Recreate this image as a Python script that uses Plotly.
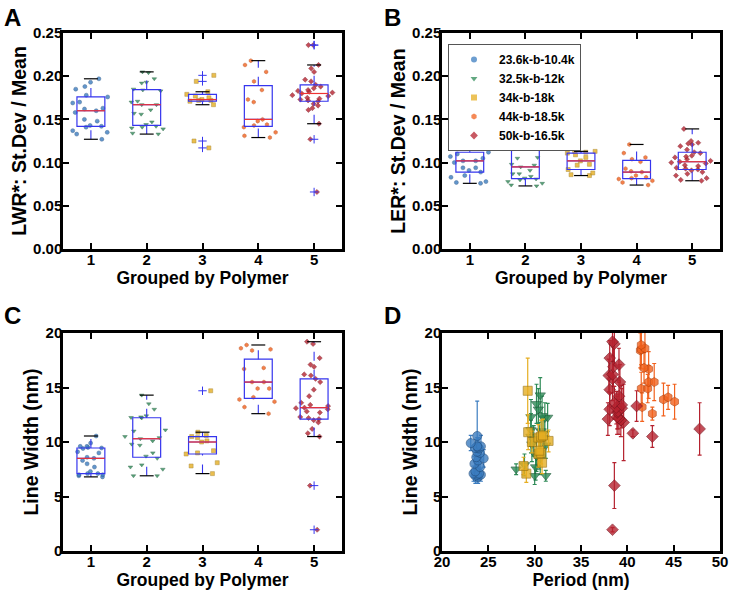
import numpy as np
import plotly.graph_objects as go

groups = [1, 2, 3, 4, 5]
names = ["23.6k-b-10.4k", "32.5k-b-12k", "34k-b-18k", "44k-b-18.5k", "50k-b-16.5k"]

# LWR* (std/mean) per polymer
lwr = [
    [0.127, 0.133, 0.135, 0.137, 0.141, 0.142, 0.143, 0.148, 0.150, 0.158, 0.160,
     0.162, 0.163, 0.169, 0.170, 0.176, 0.178, 0.185, 0.188, 0.193, 0.197],
    [0.133, 0.134, 0.139, 0.140, 0.141, 0.142, 0.144, 0.147, 0.156, 0.157, 0.161, 0.167,
     0.167, 0.170, 0.171, 0.183, 0.184, 0.185, 0.192, 0.193, 0.197, 0.204, 0.205],
    [0.117, 0.125, 0.167, 0.171, 0.172, 0.172, 0.173, 0.175, 0.177, 0.179, 0.182, 0.194, 0.201],
    [0.129, 0.131, 0.135, 0.141, 0.143, 0.144, 0.148, 0.150, 0.170, 0.173, 0.184, 0.194,
     0.205, 0.213, 0.218],
    [0.066, 0.127, 0.145, 0.161, 0.163, 0.166, 0.168, 0.171, 0.172, 0.173, 0.174, 0.175,
     0.177, 0.178, 0.180, 0.181, 0.182, 0.183, 0.184, 0.186, 0.188, 0.190, 0.194, 0.196,
     0.205, 0.209, 0.213, 0.236, 0.236],
]

# LER* (std/mean) per polymer
ler = [
    [0.076, 0.077, 0.078, 0.083, 0.085, 0.089, 0.091, 0.094, 0.094, 0.100, 0.102,
     0.102, 0.105, 0.107, 0.110, 0.112, 0.117, 0.120, 0.122, 0.124, 0.127],
    [0.073, 0.074, 0.076, 0.078, 0.080, 0.081, 0.082, 0.084, 0.087, 0.087, 0.091, 0.095,
     0.097, 0.098, 0.105, 0.106, 0.118, 0.122, 0.124, 0.126, 0.130, 0.132, 0.133],
    [0.085, 0.086, 0.088, 0.092, 0.097, 0.098, 0.102, 0.106, 0.109, 0.111, 0.112, 0.113, 0.113],
    [0.074, 0.077, 0.079, 0.081, 0.082, 0.083, 0.085, 0.089, 0.090, 0.093, 0.101, 0.104,
     0.106, 0.111, 0.121],
    [0.079, 0.080, 0.082, 0.085, 0.087, 0.089, 0.091, 0.092, 0.093, 0.094, 0.096, 0.097,
     0.099, 0.100, 0.101, 0.102, 0.104, 0.106, 0.107, 0.108, 0.111, 0.112, 0.115, 0.119,
     0.121, 0.122, 0.123, 0.125, 0.139],
]

# line width (nm), its error and the period (nm)
width = [
    [6.8, 6.9, 7.0, 7.0, 7.1, 7.1, 7.3, 7.7, 8.0, 8.3, 8.5, 8.6, 9.0, 9.1, 9.4, 9.45,
     9.5, 9.6, 9.6, 9.9, 10.55],
    [6.9, 6.9, 7.5, 7.7, 7.9, 8.5, 8.7, 9.0, 9.7, 9.8, 10.1, 10.3, 10.4, 10.5, 11.0, 11.1,
     12.2, 12.25, 12.3, 12.4, 13.0, 13.5, 14.3],
    [7.1, 7.8, 8.1, 8.9, 9.0, 9.2, 10.0, 10.1, 10.4, 10.5, 10.6, 10.9, 14.7],
    [12.6, 13.2, 13.7, 13.9, 14.1, 14.9, 14.9, 15.5, 15.5, 16.7, 16.8, 18.4, 18.5, 18.6, 18.9],
    [1.95, 6.0, 10.5, 10.8, 11.2, 11.8, 12.0, 12.1, 12.2, 12.3, 12.7, 12.8, 13.0, 13.1,
     13.15, 13.3, 13.4, 13.6, 14.2, 14.8, 15.5, 15.8, 16.1, 16.2, 16.9, 17.1, 17.7, 19.0, 19.2],
]
width_err = [
    [0.6, 0.7, 0.6, 0.8, 0.7, 0.6, 0.9, 0.8, 0.7, 0.9, 0.8, 0.9, 0.8, 1.0, 0.9, 0.8,
     0.9, 1.0, 0.8, 0.7, 3.2],
    [0.5, 0.8, 0.5, 1.2, 1.0, 1.5, 1.4, 1.5, 1.2, 1.6, 1.4, 1.5, 1.6, 1.5, 1.3, 1.5,
     1.4, 1.3, 1.6, 1.8, 1.9, 1.8, 1.6],
    [0.8, 0.8, 1.0, 1.2, 1.0, 1.2, 1.0, 1.0, 1.2, 1.5, 1.5, 1.6, 3.0],
    [0.6, 1.3, 1.6, 1.5, 1.1, 1.5, 1.3, 1.5, 1.7, 1.6, 1.4, 1.6, 1.8, 1.9, 1.8],
    [0.2, 2.1, 1.0, 0.3, 2.4, 3.5, 1.5, 1.5, 1.5, 1.6, 1.5, 1.6, 1.5, 1.8, 1.5, 1.4,
     1.8, 1.5, 1.3, 1.5, 1.6, 2.0, 1.5, 1.7, 1.8, 1.5, 1.6, 2.0, 1.8],
]
period = [
    [23.9, 23.6, 24.2, 23.8, 23.4, 24.0, 23.6, 24.1, 23.5, 23.9, 24.5, 23.7, 24.1, 23.8,
     24.0, 23.6, 23.9, 24.2, 23.8, 23.1, 23.8],
    [31.2, 30.0, 28.0, 30.1, 28.9, 30.6, 30.2, 30.5, 31.2, 29.7, 29.9, 30.5, 31.0, 29.6,
     30.7, 29.6, 31.1, 31.4, 29.6, 30.8, 30.4, 30.2, 30.6],
    [29.1, 28.8, 30.8, 30.4, 30.7, 30.5, 29.7, 31.5, 30.4, 30.7, 30.9, 29.3, 29.25],
    [42.7, 41.6, 45.1, 43.9, 44.4, 41.5, 42.2, 42.3, 42.9, 42.3, 41.8, 41.4, 41.5, 41.9, 41.5],
    [38.4, 38.6, 42.7, 40.6, 47.8, 39.6, 39.3, 37.9, 39.1, 38.9, 38.9, 39.0, 38.1, 39.4,
     38.8, 41.0, 39.4, 38.6, 39.1, 38.1, 39.2, 38.4, 38.0, 38.4, 38.5, 39.1, 38.1, 38.6, 38.4],
]

colors = ["#3c7dc0", "#2e8b57", "#e6ae22", "#f2621e", "#b5222f"]
edges = ["#234f80", "#1b5a38", "#9a7410", "#b8430d", "#7a1420"]
symbols = ["circle", "triangle-down", "square", "hexagon", "diamond"]
BOX_BLUE = "#3535ee"

FONT = "Liberation Sans, Arial, sans-serif"

fig = go.Figure()
shapes = []

box_panels = [("x", "y", lwr), ("x2", "y2", ler), ("x3", "y3", width)]
for xa, ya, data in box_panels:
    for i, g in enumerate(groups):
        vals = np.array(data[i])
        q1, med, q3 = np.percentile(vals, [25, 50, 75])
        iqr = q3 - q1
        inside = vals[(vals >= q1 - 1.5 * iqr) & (vals <= q3 + 1.5 * iqr)]
        lo, hi = inside.min(), inside.max()
        outl = vals[(vals < lo) | (vals > hi)]

        # jittered raw points
        fig.add_trace(go.Box(
            y=vals, x0=g, xaxis=xa, yaxis=ya, boxpoints="all", jitter=1, pointpos=0,
            width=0.8, line=dict(width=0, color="rgba(0,0,0,0)"),
            fillcolor="rgba(0,0,0,0)", showlegend=False,
            marker=dict(symbol=symbols[i], size=4, color=colors[i], opacity=0.8,
                        line=dict(width=0.5, color=edges[i]))))
        # box body
        fig.add_trace(go.Box(
            x=[g], q1=[q1], median=[med], q3=[q3], lowerfence=[q1], upperfence=[q3],
            xaxis=xa, yaxis=ya, width=0.5, whiskerwidth=0, boxpoints=False,
            line=dict(color=BOX_BLUE, width=1.2), fillcolor="rgba(0,0,0,0)",
            showlegend=False, hoverinfo="skip"))
        # fliers
        if len(outl):
            fig.add_trace(go.Scatter(
                x=[g] * len(outl), y=outl, xaxis=xa, yaxis=ya, mode="markers",
                showlegend=False,
                marker=dict(symbol="cross-thin", size=6, line=dict(width=1, color=BOX_BLUE))))
        shapes.append(dict(type="line", xref=xa, yref=ya, x0=g - 0.25, x1=g + 0.25, y0=med, y1=med,
                           line=dict(color="#ee3333", width=1.2)))
        for a, b in [(q3, hi), (lo, q1)]:
            shapes.append(dict(type="line", xref=xa, yref=ya, x0=g, x1=g, y0=a, y1=b,
                               line=dict(color=BOX_BLUE, width=1.1, dash="dash")))
        for v in (lo, hi):
            shapes.append(dict(type="line", xref=xa, yref=ya, x0=g - 0.125, x1=g + 0.125, y0=v, y1=v,
                               line=dict(color="black", width=1.2)))

# panel D: line width vs period
for i in range(5):
    fig.add_trace(go.Scatter(
        x=period[i], y=width[i], xaxis="x4", yaxis="y4", mode="markers", showlegend=False,
        error_y=dict(type="data", array=width_err[i], color=colors[i], thickness=1.2, width=2),
        marker=dict(symbol=symbols[i], size=9, color=colors[i], opacity=0.8,
                    line=dict(width=0.8, color=edges[i]))))

# legend entries (shown in panel B)
for i in range(5):
    fig.add_trace(go.Scatter(
        x=[None], y=[None], xaxis="x2", yaxis="y2", mode="markers", name=names[i],
        marker=dict(symbol=symbols[i], size=6, color=colors[i], opacity=0.75)))


def ax(domain, title, rng, tsize, **kw):
    d = dict(domain=domain, range=rng, showline=True, linewidth=2.5, linecolor="black",
             mirror="ticks", ticks="inside", ticklen=6, tickwidth=2, tickcolor="black",
             showgrid=False, zeroline=False, automargin=False, ticklabelstandoff=-5,
             tickfont=dict(family=FONT, size=15, color="black", weight="bold"),
             title=dict(text=title, font=dict(family=FONT, size=tsize, color="black", weight="bold"),
                        standoff=2))
    d.update(kw)
    return d


xl, xr_ = [63 / 734, 342 / 734], [442 / 734, 720 / 734]
yt, yb = [1 - 249 / 591, 1 - 33 / 591], [1 - 551 / 591, 1 - 333 / 591]
grp = dict(tickvals=groups)
XT, YT = 17.5, 19.5

fig.update_layout(
    width=734, height=591, margin=dict(l=0, r=0, t=0, b=0, autoexpand=False),
    paper_bgcolor="white", plot_bgcolor="white", boxmode="overlay",
    font=dict(family=FONT, color="black"),
    xaxis=ax(xl, "Grouped by Polymer", [0.5, 5.5], XT, anchor="y", **grp),
    yaxis=ax(yt, "LWR*: St.Dev / Mean", [0, 0.25], YT, anchor="x", dtick=0.05, tickformat=".2f"),
    xaxis2=ax(xr_, "Grouped by Polymer", [0.5, 5.5], XT, anchor="y2", **grp),
    yaxis2=ax(yt, "LER*: St.Dev / Mean", [0, 0.25], YT, anchor="x2", dtick=0.05, tickformat=".2f"),
    xaxis3=ax(xl, "Grouped by Polymer", [0.5, 5.5], XT, anchor="y3", **grp),
    yaxis3=ax(yb, "Line Width (nm)", [0, 20], YT, anchor="x3", dtick=5),
    xaxis4=ax(xr_, "Period (nm)", [20, 50], XT, anchor="y4", dtick=5),
    yaxis4=ax(yb, "Line Width (nm)", [0, 20], YT, anchor="x4", dtick=5),
    shapes=shapes,
    legend=dict(x=448 / 734, y=1 - 44 / 591, xanchor="left", yanchor="top",
                bordercolor="#555555", borderwidth=1, bgcolor="white",
                font=dict(family=FONT, size=12, color="black", weight="bold"),
                tracegroupgap=0, itemwidth=40),
    annotations=[
        dict(text=t, x=px / 734, y=1 - py / 591, xref="paper", yref="paper",
             xanchor="left", yanchor="top", showarrow=False,
             font=dict(family=FONT, size=24, color="black", weight="bold"))
        for t, px, py in [("A", 2, 2), ("B", 382, 2), ("C", 2, 300), ("D", 382, 300)]
    ],
)

fig.write_html("out.html", config={"displayModeBar": False},
               post_script="document.body.style.margin = '0';")
